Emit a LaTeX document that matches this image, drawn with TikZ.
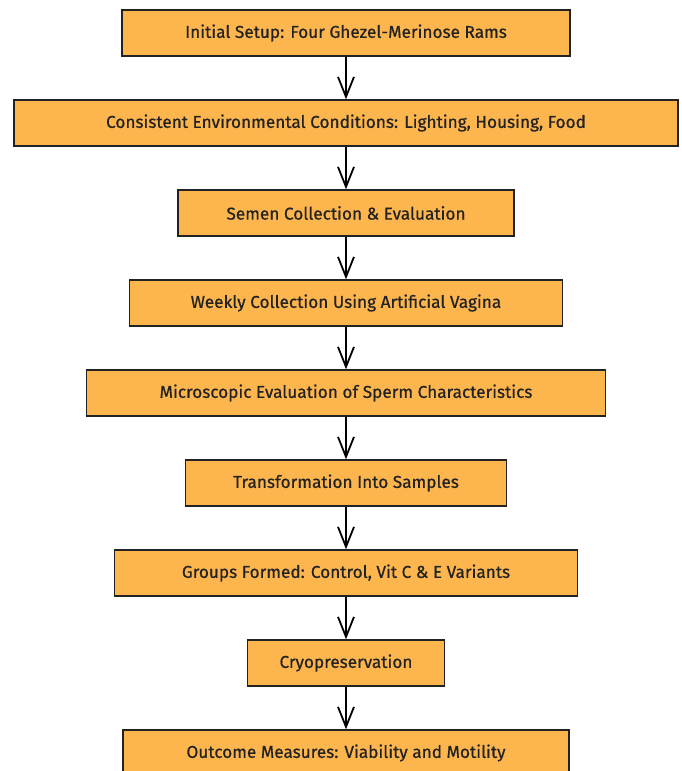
\documentclass[tikz,border=0pt]{standalone}
\usepackage{fontspec}
\setmainfont{Fira Sans}[FakeBold=0.6]
\usetikzlibrary{arrows.meta}
\definecolor{boxfill}{HTML}{FDB54E}
\definecolor{boxline}{HTML}{222222}
\begin{document}
\begin{tikzpicture}[x=1pt,y=-1pt,
  stepbox/.style={draw=boxline, fill=boxfill, line width=1.4pt, minimum height=46pt,
    inner sep=0pt, font=\fontsize{17.2}{20}\selectfont, text=boxline},
  flow/.style={draw=black, line width=1.8pt, -{Straight Barb[length=20pt,width=16pt,line width=1.8pt]}}]
\useasboundingbox (0,0) rectangle (682,771);
\node[stepbox, minimum width=448pt] (b1) at (346,33) {Initial Setup: Four Ghezel-Merinose Rams};
\node[stepbox, minimum width=664pt] (b2) at (346,123) {Consistent Environmental Conditions: Lighting, Housing, Food};
\node[stepbox, minimum width=336pt] (b3) at (346,213) {Semen Collection \& Evaluation};
\node[stepbox, minimum width=433pt] (b4) at (346,303) {Weekly Collection Using Artificial Vagina};
\node[stepbox, minimum width=519pt] (b5) at (346,393) {Microscopic Evaluation of Sperm Characteristics};
\node[stepbox, minimum width=321pt] (b6) at (346,483) {Transformation Into Samples};
\node[stepbox, minimum width=463pt] (b7) at (346,573) {Groups Formed: Control, Vit C \& E Variants};
\node[stepbox, minimum width=197pt] (b8) at (346,663) {Cryopreservation};
\node[stepbox, minimum width=446pt] (b9) at (346,753) {Outcome Measures: Viability and Motility};
\foreach \a/\b in {b1/b2,b2/b3,b3/b4,b4/b5,b5/b6,b6/b7,b7/b8,b8/b9}
  \draw[flow] (\a.south) -- (\b.north);
\end{tikzpicture}
\end{document}
